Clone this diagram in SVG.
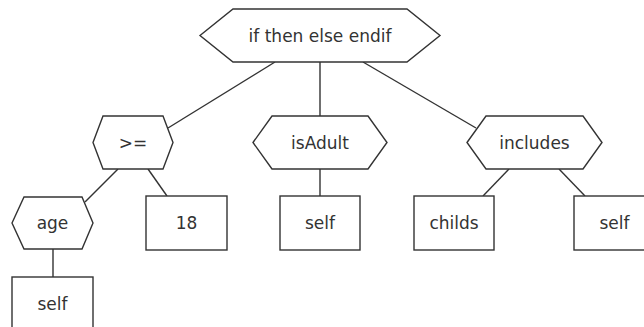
<svg xmlns="http://www.w3.org/2000/svg" width="644" height="327" viewBox="0 0 644 327">
  <style>
    .shape { fill: #ffffff; stroke: #333333; stroke-width: 1.4; }
    .edge { stroke: #333333; stroke-width: 1.4; fill: none; }
    .label { font-family: "DejaVu Sans", Verdana, sans-serif; font-size: 17px; fill: #333333; text-anchor: middle; }
  </style>
  <rect width="644" height="327" fill="#ffffff"/>

  <!-- tree edges -->
  <g id="connectors">
    <line class="edge" x1="275" y1="62" x2="168" y2="128"/>
    <line class="edge" x1="320" y1="62" x2="320" y2="116"/>
    <line class="edge" x1="363" y1="62" x2="476" y2="128"/>
    <line class="edge" x1="118" y1="169" x2="85" y2="202"/>
    <line class="edge" x1="148" y1="169" x2="167" y2="196"/>
    <line class="edge" x1="320" y1="169" x2="320" y2="196"/>
    <line class="edge" x1="509" y1="169" x2="483" y2="196"/>
    <line class="edge" x1="559" y1="169" x2="585" y2="196"/>
    <line class="edge" x1="53" y1="249" x2="53" y2="277"/>
  </g>

  <!-- operation nodes (hexagons) -->
  <g id="node-ifthenelse">
    <polygon class="shape" points="200,35.5 233,9 407,9 440,35.5 407,62 233,62"/>
    <text class="label" x="320" y="41.5">if then else endif</text>
  </g>
  <g id="node-geq">
    <polygon class="shape" points="93,142.5 103,116 163,116 173,142.5 163,169 103,169"/>
    <text class="label" x="133" y="148.5">&gt;=</text>
  </g>
  <g id="node-isAdult">
    <polygon class="shape" points="253,142.5 272,116 368,116 387,142.5 368,169 272,169"/>
    <text class="label" x="320" y="148.5">isAdult</text>
  </g>
  <g id="node-includes">
    <polygon class="shape" points="467,142.5 486,116 583,116 602,142.5 583,169 486,169"/>
    <text class="label" x="534.5" y="148.5">includes</text>
  </g>
  <g id="node-age">
    <polygon class="shape" points="12,223 24,197 82,197 93,223 82,249 24,249"/>
    <text class="label" x="52.5" y="229">age</text>
  </g>

  <!-- leaf nodes (boxes) -->
  <g id="node-18">
    <rect class="shape" x="146" y="196" width="81" height="54"/>
    <text class="label" x="186.5" y="229">18</text>
  </g>
  <g id="node-self-isAdult">
    <rect class="shape" x="280" y="196" width="80" height="54"/>
    <text class="label" x="320" y="229">self</text>
  </g>
  <g id="node-childs">
    <rect class="shape" x="414" y="196" width="80" height="54"/>
    <text class="label" x="454" y="229">childs</text>
  </g>
  <g id="node-self-includes">
    <rect class="shape" x="574" y="196" width="81" height="54"/>
    <text class="label" x="614.5" y="229">self</text>
  </g>
  <g id="node-self-age">
    <rect class="shape" x="12" y="277" width="81" height="54"/>
    <text class="label" x="52.5" y="310">self</text>
  </g>
</svg>
